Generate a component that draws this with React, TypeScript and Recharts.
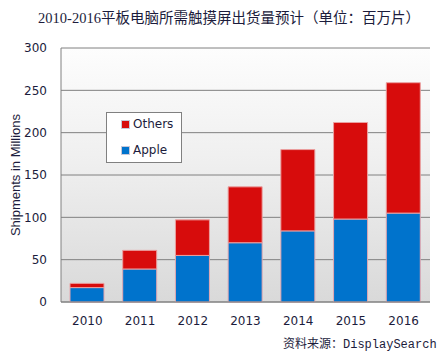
import { BarChart, Bar, XAxis, YAxis, CartesianGrid, Legend } from "recharts";

const years = ["2010", "2011", "2012", "2013", "2014", "2015", "2016"];
const apple = [17, 39, 55, 70, 84, 98, 105];
const others = [5, 22, 42, 66, 96, 114, 154];
const yTicks = [0, 50, 100, 150, 200, 250, 300];

const data = years.map((year, i) => ({
  year,
  Apple: apple[i],
  Others: others[i],
}));

const RED = "#d70c0c";
const BLUE = "#0073cc";
const INK = "#1c1c3c";
const tickStyle = { fill: INK, fontSize: 12, fontFamily: "DejaVu Sans, Verdana, sans-serif" };

const LegendBox = () => (
  <div
    style={{
      width: 74,
      height: 49,
      background: "#fff",
      border: "1px solid #808080",
      fontFamily: "DejaVu Sans, sans-serif",
      fontSize: 12,
      color: INK,
      boxSizing: "content-box",
      position: "relative",
    }}
  >
    {[
      { name: "Others", color: RED },
      { name: "Apple", color: BLUE },
    ].map((d, i) => (
      <div
        key={d.name}
        style={{ display: "flex", alignItems: "center", position: "absolute", left: 14, top: i === 0 ? 4 : 30 }}
      >
        <span
          style={{
            width: 7,
            height: 7,
            background: d.color,
            border: "1px solid #c8c8d8",
            marginRight: 3,
            display: "inline-block",
          }}
        />
        {d.name}
      </div>
    ))}
  </div>
);

export default function App() {
  return (
    <div style={{ position: "absolute", left: 0, top: 0, width: 440, height: 355, background: "#fff" }}>
      <div
        style={{
          position: "absolute",
          top: 6,
          left: 0,
          width: 458,
          textAlign: "center",
          fontFamily: "Liberation Serif, Noto Sans CJK SC, serif",
          fontSize: 14.5,
          color: INK,
        }}
      >
        2010-2016平板电脑所需触摸屏出货量预计（单位：百万片）
      </div>
      <BarChart
        width={440}
        height={355}
        data={data}
        margin={{ top: 48, right: 10, bottom: 23, left: 0 }}
        barSize={34}
      >
        <defs>
          <linearGradient id="bg" x1="0" y1="0" x2="0" y2="1">
            <stop offset="0%" stopColor="#fdfdfd" />
            <stop offset="45%" stopColor="#efefef" />
            <stop offset="100%" stopColor="#d9d9d9" />
          </linearGradient>
        </defs>
        <CartesianGrid vertical={false} stroke="#808080" fill="url(#bg)" fillOpacity={1} />
        <XAxis
          dataKey="year"
          tick={tickStyle}
          tickLine={false}
          axisLine={{ stroke: "#808080" }}
          height={30}
          tickMargin={8}
        />
        <YAxis
          domain={[0, 300]}
          ticks={yTicks}
          tick={tickStyle}
          tickLine={false}
          axisLine={{ stroke: "#808080" }}
          width={61}
          tickMargin={8}
          label={{
            value: "Shipments  in Millions",
            angle: -90,
            position: "insideLeft",
            dx: 10,
            style: { fill: INK, fontSize: 13, fontFamily: "Liberation Sans, Arial, sans-serif", textAnchor: "middle" },
          }}
        />
        <YAxis
          yAxisId="right"
          orientation="right"
          domain={[0, 300]}
          tick={false}
          tickLine={false}
          axisLine={{ stroke: "#808080" }}
          width={0}
        />
        <Legend
          verticalAlign="middle"
          align="center"
          layout="horizontal"
          content={<LegendBox />}
          wrapperStyle={{ position: "absolute", left: 106, top: 112, width: 76, height: 51 }}
        />
        <Bar dataKey="Apple" stackId="a" fill={BLUE} stroke="#e4a8b0" strokeWidth={1} isAnimationActive={false} />
        <Bar dataKey="Others" stackId="a" fill={RED} stroke="#eaa0a0" strokeWidth={1} isAnimationActive={false} />
      </BarChart>
      <div
        style={{
          position: "absolute",
          top: 334,
          left: 283,
          fontFamily: "Liberation Mono, Noto Sans CJK SC, monospace",
          fontSize: 12,
          color: INK,
          whiteSpace: "nowrap",
        }}
      >
        资料来源：DisplaySearch
      </div>
    </div>
  );
}
